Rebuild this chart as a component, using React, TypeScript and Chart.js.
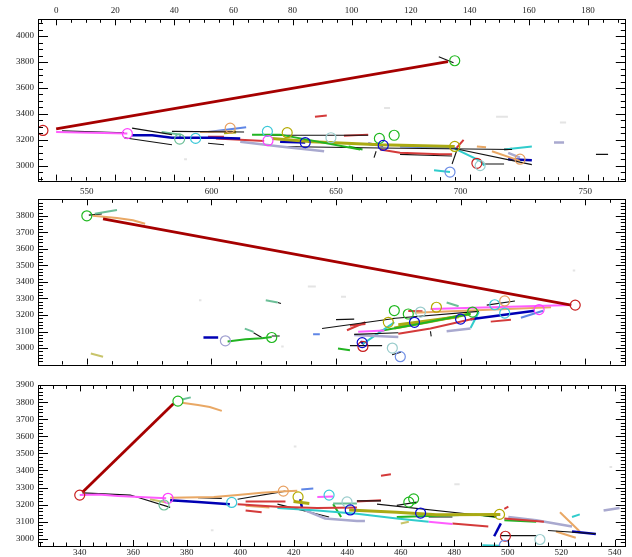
import React, { useEffect, useRef } from 'react';
import { Chart, registerables } from 'chart.js';

Chart.register(...registerables);

type Pt = [number, number];
type Track = [string, Pt[]];
type Ring = [string, number, number];

// ---------- tick labels ----------
const p1XTicks = [0, 20, 40, 60, 80, 100, 120, 140, 160, 180];
const p1YTicks = [3000, 3200, 3400, 3600, 3800, 4000];
const p2XTicks = [550, 600, 650, 700, 750];
const p2YTicks = [3000, 3100, 3200, 3300, 3400, 3500, 3600, 3700, 3800];
const p3XTicks = [340, 360, 380, 400, 420, 440, 460, 480, 500, 520, 540];
const p3YTicks = [3000, 3100, 3200, 3300, 3400, 3500, 3600, 3700, 3800, 3900];

// ---------- panel 1 tracks ----------
const p1Tracks: Track[] = [
  ['R', [[0, 3286], [132.6, 3803]]],
  ['k', [[129.5, 3840], [134.5, 3795]]],
  ['r', [[87.6, 3379], [91.6, 3389]]],
  ['m', [[0, 3261], [12, 3256], [24.1, 3249]]],
  ['k', [[2, 3270], [23, 3255]]],
  ['k', [[25.7, 3291], [39.2, 3241]]],
  ['b', [[25.7, 3236], [32.5, 3236], [39.2, 3217], [52.8, 3217], [62.3, 3212]]],
  ['k', [[23, 3217], [39.2, 3163]]],
  ['tg', [[35.7, 3261], [42, 3241], [41.8, 3207]]],
  ['k', [[39.2, 3266], [63.6, 3261]]],
  ['t', [[48.7, 3261], [59.5, 3266]]],
  ['lb', [[51.4, 3261], [64.3, 3298]]],
  ['o', [[56.8, 3256], [60.9, 3261]]],
  ['r', [[51.4, 3224], [56.8, 3224]]],
  ['r', [[54.1, 3212], [70.4, 3192]]],
  ['k', [[51.4, 3175], [56.8, 3163]]],
  ['l', [[62.3, 3187], [75.8, 3150], [90.7, 3113]]],
  ['g', [[66.3, 3241], [75.8, 3241], [102.9, 3126]]],
  ['k', [[70.4, 3236], [105.6, 3236]]],
  ['o', [[73.1, 3212], [86.6, 3187], [109.6, 3163], [134.9, 3150]]],
  ['b', [[75.8, 3187], [84.3, 3180]]],
  ['r', [[97.4, 3232], [105.6, 3241]]],
  ['k', [[75.8, 3150], [109.6, 3138], [154.3, 3126]]],
  ['g', [[99, 3150], [103.7, 3126]]],
  ['r', [[109.6, 3126], [116.4, 3101], [129.9, 3089], [134, 3089]]],
  ['k', [[116.4, 3089], [134, 3076]]],
  ['lb', [[116.4, 3150], [135.3, 3138]]],
  ['k', [[134, 3138], [161, 3010]]],
  ['c', [[134.9, 3133], [143.5, 3039], [144.9, 3002]]],
  ['c', [[151.6, 3126], [161, 3150]]],
  ['r', [[151.6, 3126], [154.3, 3133]]],
  ['t', [[142.4, 3150], [145.5, 3143]]],
  ['t', [[147.5, 3113], [157, 3039]]],
  ['b', [[153, 3052], [161, 3044]]],
  ['l', [[153, 3101], [157, 3064]]],
  ['k', [[144.2, 3015], [151.6, 3015]]],
  ['r', [[135.5, 3138], [137.9, 3200]]],
  ['k', [[135.5, 3113], [134, 3015]]],
  ['k', [[108.3, 3113], [107.6, 3064]]],
  ['c', [[127.9, 2966], [133.3, 2953]]],
  ['b', [[105.6, 3170], [110.7, 3158]]],
  ['l', [[168.5, 3180], [171.9, 3180]]],
  ['k', [[182.7, 3089], [186.8, 3089]]],
  ['gr', [[148.9, 3379], [152.9, 3379]]],
  ['gr', [[170.5, 3335], [172.6, 3335]]],
  ['gr', [[111, 3446], [113, 3446]]],
  ['gr', [[43.3, 3052], [44.3, 3052]]],
];

const p1Rings: Ring[] = [
  ['r', -4.47, 3273],
  ['g', 134.9, 3810],
  ['m', 24.1, 3249],
  ['tg', 41.8, 3207],
  ['c', 47.2, 3212],
  ['t', 58.9, 3291],
  ['c', 71.5, 3266],
  ['m', 71.7, 3195],
  ['o', 78.2, 3256],
  ['b', 84.3, 3180],
  ['lc', 93, 3217],
  ['g', 109.4, 3212],
  ['g', 114.4, 3236],
  ['b', 110.7, 3158],
  ['o', 134.9, 3150],
  ['r', 142.4, 3020],
  ['lc', 143.5, 3002],
  ['lb', 133.3, 2953],
  ['t', 157, 3052],
];

// ---------- panel 2 tracks ----------
const p2Tracks: Track[] = [
  ['R', [[556.5, 3781], [744.4, 3260]]],
  ['t', [[552.4, 3800], [562.1, 3787], [568.5, 3773], [573.4, 3752]]],
  ['tg', [[553.2, 3812], [562.1, 3835]]],
  ['k', [[550.8, 3804], [556, 3812]]],
  ['tg', [[621.8, 3289], [626.6, 3276]]],
  ['k', [[626.6, 3276], [627.9, 3270]]],
  ['b', [[596.8, 3064], [602.7, 3064]]],
  ['g', [[606.5, 3040], [613.7, 3054], [620.2, 3060], [624.2, 3067]]],
  ['tg', [[613.4, 3118], [616.9, 3098]]],
  ['k', [[616.9, 3093], [620.2, 3064]]],
  ['k', [[624.2, 3073], [627.4, 3073]]],
  ['lb', [[640.8, 3083], [643.5, 3083]]],
  ['y', [[551.6, 2967], [556.5, 2948]]],
  ['g', [[650.8, 2998], [655.6, 2987]]],
  ['k', [[644.4, 3118], [673.4, 3179]]],
  ['k', [[650, 3172], [657.3, 3175]]],
  ['r', [[654.4, 3108], [661.8, 3156]]],
  ['r', [[655.6, 3137], [661.8, 3145]]],
  ['m', [[658.9, 3098], [669.4, 3106]]],
  ['k', [[657.3, 3083], [675, 3093]]],
  ['k', [[655.6, 3015], [668.5, 3015]]],
  ['l', [[657.3, 3079], [675, 3067]]],
  ['c', [[660.8, 3025], [673.4, 3156]]],
  ['g', [[666.9, 3102], [681.5, 3141], [704, 3208]]],
  ['o', [[673.4, 3121], [687.9, 3160], [704, 3208]]],
  ['o', [[675, 3141], [699.2, 3189]]],
  ['r', [[675, 3087], [687.9, 3118], [705.6, 3179]]],
  ['k', [[672.6, 3179], [707.3, 3222]]],
  ['m', [[687.9, 3237], [744.4, 3260]]],
  ['t', [[681.5, 3214], [736.3, 3247]]],
  ['b', [[704, 3175], [729.8, 3226]]],
  ['lb', [[724.2, 3183], [733.1, 3226]]],
  ['r', [[712.1, 3160], [720.2, 3172]]],
  ['l', [[694.4, 3102], [704, 3118]]],
  ['tg', [[694.4, 3276], [699.2, 3253]]],
  ['r', [[679, 3224], [684.7, 3222]]],
  ['k', [[687.9, 3102], [688.2, 3071]]],
  ['c', [[704, 3121], [707.3, 3218]]],
  ['k', [[710.5, 3260], [721.8, 3285]]],
  ['k', [[672.5, 2960], [676, 2975]]],
  ['b', [[659.8, 3040], [661.3, 3025]]],
  ['gr', [[638.7, 3372], [641.9, 3372]]],
  ['gr', [[595, 3290], [596, 3290]]],
  ['gr', [[652, 3310], [654, 3310]]],
  ['gr', [[628, 3010], [629, 3010]]],
  ['gr', [[745, 3470], [746, 3470]]],
];

const p2Rings: Ring[] = [
  ['g', 550, 3800],
  ['r', 746, 3260],
  ['l', 605.6, 3044],
  ['g', 624.2, 3064],
  ['r', 660.8, 3010],
  ['b', 660.5, 3033],
  ['lc', 672.6, 3000],
  ['lb', 675.8, 2948],
  ['g', 673.4, 3227],
  ['g', 679, 3206],
  ['b', 681.5, 3156],
  ['o', 671, 3156],
  ['lc', 683.9, 3218],
  ['o', 690.3, 3247],
  ['b', 700, 3175],
  ['g', 704.8, 3218],
  ['c', 713.7, 3262],
  ['t', 717.7, 3285],
  ['c', 717.7, 3212],
  ['m', 731.5, 3233],
];

// ---------- panel 3 tracks ----------
const p3Tracks: Track[] = [
  ['R', [[341, 3272], [375, 3790]]],
  ['tg', [[378.2, 3815], [381.5, 3828]]],
  ['t', [[378.2, 3796], [384.2, 3783], [388.6, 3772], [393.1, 3749]]],
  ['r', [[452.6, 3369], [456.3, 3378]]],
  ['m', [[340, 3256], [347, 3260], [354.4, 3250], [372.3, 3237]]],
  ['k', [[341, 3269], [358.9, 3256], [373.8, 3184]]],
  ['y', [[366.3, 3232], [372.3, 3213]]],
  ['t', [[373.8, 3241], [390.1, 3245], [399, 3256], [408, 3269], [416.9, 3279], [421.3, 3282]]],
  ['lb', [[422.8, 3288], [427.3, 3294]]],
  ['b', [[373.8, 3226], [384.2, 3216], [396.1, 3203]]],
  ['k', [[384.2, 3241], [393.1, 3237]]],
  ['k', [[399, 3232], [416.9, 3279]]],
  ['r', [[399, 3203], [413.9, 3188], [428.8, 3181], [443.6, 3184]]],
  ['r', [[402, 3218], [416.9, 3218]]],
  ['r', [[402, 3166], [408, 3156]]],
  ['t', [[402, 3194], [410.9, 3184]]],
  ['c', [[413.9, 3181], [428.8, 3166], [443.6, 3147], [458.5, 3119], [470.4, 3100]]],
  ['o', [[419.9, 3218], [425.8, 3207]]],
  ['b', [[422.4, 3232], [423.1, 3181]]],
  ['l', [[424.3, 3166], [431.7, 3119], [443.6, 3105], [446.6, 3104]]],
  ['k', [[413.9, 3203], [433.2, 3128]]],
  ['m', [[428.8, 3245], [434.7, 3248]]],
  ['tg', [[434.7, 3207], [443.6, 3207]]],
  ['g', [[434.7, 3203], [437.7, 3128]]],
  ['k', [[443.6, 3222], [452.6, 3222]]],
  ['r', [[443.6, 3218], [452.6, 3226]]],
  ['o', [[440.7, 3169], [458.5, 3156], [473.4, 3141], [497.2, 3143]]],
  ['k', [[451.1, 3203], [495.7, 3128]]],
  ['g', [[458.5, 3128], [488.2, 3143], [495.7, 3128]]],
  ['m', [[470.4, 3100], [479.3, 3087]]],
  ['r', [[479.3, 3090], [492.7, 3072]]],
  ['k', [[497.2, 3019], [510.6, 3019]]],
  ['b', [[494.9, 3015], [497.4, 3090]]],
  ['r', [[498.7, 3119], [513.5, 3100]]],
  ['g', [[498.7, 3109], [510.6, 3100]]],
  ['l', [[500.2, 3128], [510.6, 3109], [524, 3072]]],
  ['k', [[515, 3049], [532.9, 3030]]],
  ['b', [[524, 3043], [532.9, 3028]]],
  ['t', [[518, 3043], [525.4, 3006]]],
  ['t', [[519.5, 3156], [526.9, 3043]]],
  ['c', [[524, 3128], [526.9, 3143]]],
  ['l', [[535.8, 3166], [541.8, 3181]]],
  ['c', [[490.5, 2962], [497.2, 2960]]],
  ['y', [[460, 3090], [463, 3100]]],
  ['k', [[470.4, 3128], [479.3, 3128]]],
  ['k', [[458.5, 3196], [466, 3215]]],
  ['r', [[498.7, 3175], [500.2, 3188]]],
  ['gr', [[420, 3540], [421, 3540]]],
  ['gr', [[480, 3320], [482, 3320]]],
  ['gr', [[389, 3050], [390, 3050]]],
  ['gr', [[538, 3420], [539, 3420]]],
];

const p3Rings: Ring[] = [
  ['r', 340, 3256],
  ['g', 376.7, 3806],
  ['m', 373, 3237],
  ['tg', 371.5, 3198],
  ['t', 416.1, 3279],
  ['c', 396.8, 3213],
  ['o', 421.6, 3245],
  ['c', 433.2, 3256],
  ['lc', 439.9, 3216],
  ['b', 441.1, 3169],
  ['g', 463, 3215],
  ['g', 464.8, 3234],
  ['b', 467.4, 3151],
  ['o', 496.9, 3143],
  ['r', 499.1, 3015],
  ['lb', 498.7, 2962],
  ['lc', 512, 2996],
];

// ---------- styles ----------
const LINE_COLOR: Record<string, string> = {
  R: '#a60000', r: '#d43a3a', k: '#111111', m: '#ff5cff', b: '#0000b4',
  lb: '#5f86e6', g: '#22b422', tg: '#6cbf98', c: '#30cccc', t: '#e9a865',
  o: '#aaaa14', y: '#c8c46a', l: '#a9a9cf', lc: '#96cfc8', gr: '#e4e4e4',
};
const LINE_WIDTH: Record<string, number> = {
  R: 2.8, r: 2, k: 1.1, m: 2, b: 2.5, lb: 2, g: 2, tg: 2, c: 2, t: 2,
  o: 3, y: 2, l: 2.5, lc: 2, gr: 2,
};
const RING_COLOR: Record<string, string> = {
  r: '#c81e1e', g: '#1fb81f', m: '#ff40ff', tg: '#6cbf98', c: '#3cc8d8',
  t: '#e8a060', o: '#b4aa00', b: '#0a0ad2', lc: '#99cccc', lb: '#6f8fe6', l: '#a0a0d0',
};

const FONT = { family: "'Liberation Serif', 'DejaVu Serif', serif", size: 9 };

interface PanelCfg {
  top: number; height: number;
  xMin: number; xMax: number; yMin: number; yMax: number;
  xPos: 'top' | 'bottom'; xAxisSize: number; padTop: number; padBottom: number;
  xTicks: number[]; yTicks: number[];
  xMinor: number; xMajor: number; yMinor: number; yMajor: number;
  labelPad: number;
  tracks: Track[]; rings: Ring[];
}

const PANELS: PanelCfg[] = [
  { top: 0, height: 190, xMin: -6.14, xMax: 192.8, yMin: 2887, yMax: 4129, xPos: 'top', xAxisSize: 19.3,
    padTop: 0, padBottom: 2.7, xTicks: p1XTicks, yTicks: p1YTicks, xMinor: 5, xMajor: 20, yMinor: 50, yMajor: 200,
    labelPad: 3, tracks: p1Tracks, rings: p1Rings },
  { top: 188, height: 186, xMin: 530.4, xMax: 766.3, yMin: 2900, yMax: 3900, xPos: 'top', xAxisSize: 11.3,
    padTop: 0, padBottom: 2.5, xTicks: p2XTicks, yTicks: p2YTicks, xMinor: 10, xMajor: 50, yMinor: 20, yMajor: 100,
    labelPad: 2, tracks: p2Tracks, rings: p2Rings },
  { top: 376, height: 181, xMin: 324.4, xMax: 544.1, yMin: 2958, yMax: 3898, xPos: 'bottom', xAxisSize: 11,
    padTop: 3.3, padBottom: 0, xTicks: p3XTicks, yTicks: p3YTicks, xMinor: 5, xMajor: 20, yMinor: 20, yMajor: 100,
    labelPad: 1.5, tracks: p3Tracks, rings: p3Rings },
];

const framePlugin = {
  id: 'frame',
  afterDraw(chart: any, _args: any, opts: any) {
    const { ctx, chartArea: a, scales } = chart;
    ctx.save();
    ctx.strokeStyle = '#000';
    ctx.lineWidth = 1;
    ctx.strokeRect(Math.round(a.left) + 0.5, Math.round(a.top) + 0.5,
      Math.round(a.right) - Math.round(a.left) - 1, Math.round(a.bottom) - Math.round(a.top));
    const seg = (x1: number, y1: number, x2: number, y2: number) => {
      ctx.beginPath(); ctx.moveTo(x1, y1); ctx.lineTo(x2, y2); ctx.stroke();
    };
    const isMajor = (v: number, step: number) => Math.abs(v / step - Math.round(v / step)) < 1e-6;
    const ys = scales.y;
    for (let v = Math.ceil(ys.min / opts.yMinor) * opts.yMinor; v <= ys.max; v += opts.yMinor) {
      const py = Math.round(ys.getPixelForValue(v)) + 0.5;
      const len = isMajor(v, opts.yMajor) ? 10 : 5;
      seg(a.left, py, a.left + len, py);
      seg(a.right, py, a.right - len, py);
    }
    const xs = scales.x;
    for (let v = Math.ceil(xs.min / opts.xMinor) * opts.xMinor; v <= xs.max; v += opts.xMinor) {
      const px = Math.round(xs.getPixelForValue(v)) + 0.5;
      const len = isMajor(v, opts.xMajor) ? 6 : 3.5;
      seg(px, a.top, px, a.top + len);
      seg(px, a.bottom, px, a.bottom - len);
    }
    ctx.restore();
  },
};

function makeChart(canvas: HTMLCanvasElement, p: PanelCfg) {
  const datasets: any[] = [];
  datasets.push({
    data: p.rings.map(([, x, y]) => ({ x, y })),
    showLine: false,
    pointRadius: 5,
    pointBorderWidth: 1.2,
    pointBorderColor: p.rings.map(([k]) => RING_COLOR[k]),
    pointBackgroundColor: 'rgba(0,0,0,0)',
  });
  p.tracks.forEach(([k, pts]) => {
    datasets.push({
      data: pts.map(([x, y]) => ({ x, y })),
      showLine: true,
      borderColor: LINE_COLOR[k],
      borderWidth: LINE_WIDTH[k],
      pointRadius: 0,
      borderCapStyle: 'butt',
      tension: 0,
    });
  });
  return new Chart(canvas, {
    type: 'scatter',
    data: { datasets },
    plugins: [framePlugin as any],
    options: {
      animation: false,
      responsive: false,
      devicePixelRatio: 1,
      events: [],
      layout: { padding: { left: 0, right: 1, top: p.padTop, bottom: p.padBottom } },
      plugins: {
        legend: { display: false },
        tooltip: { enabled: false },
        frame: { xMinor: p.xMinor, xMajor: p.xMajor, yMinor: p.yMinor, yMajor: p.yMajor },
      } as any,
      scales: {
        x: {
          type: 'linear',
          position: p.xPos,
          min: p.xMin,
          max: p.xMax,
          grid: { display: false, drawTicks: false },
          border: { display: false },
          afterBuildTicks: (s: any) => { s.ticks = p.xTicks.map((v) => ({ value: v })); },
          afterFit: (s: any) => { s.height = p.xAxisSize; },
          ticks: {
            autoSkip: false, maxRotation: 0, minRotation: 0, padding: p.labelPad,
            color: '#222', font: FONT, callback: (v: any) => String(v),
          },
        },
        y: {
          type: 'linear',
          min: p.yMin,
          max: p.yMax,
          grid: { display: false, drawTicks: false },
          border: { display: false },
          afterBuildTicks: (s: any) => { s.ticks = p.yTicks.map((v) => ({ value: v })); },
          afterFit: (s: any) => { s.width = 38; },
          ticks: {
            autoSkip: false, padding: 4, color: '#222', font: FONT,
            callback: (v: any) => String(v),
          },
        },
      },
    } as any,
  });
}

export default function App() {
  const refs = [useRef<HTMLCanvasElement>(null), useRef<HTMLCanvasElement>(null), useRef<HTMLCanvasElement>(null)];
  useEffect(() => {
    const charts = PANELS.map((p, i) => makeChart(refs[i].current as HTMLCanvasElement, p));
    return () => charts.forEach((c) => c.destroy());
  }, []);
  return (
    <div style={{ position: 'absolute', left: 0, top: 0, width: 632, height: 557, background: '#fff', overflow: 'hidden' }}>
      {PANELS.map((p, i) => (
        <canvas
          key={i}
          ref={refs[i]}
          width={632}
          height={p.height}
          style={{ position: 'absolute', left: 0, top: p.top, width: 632, height: p.height }}
        />
      ))}
    </div>
  );
}
